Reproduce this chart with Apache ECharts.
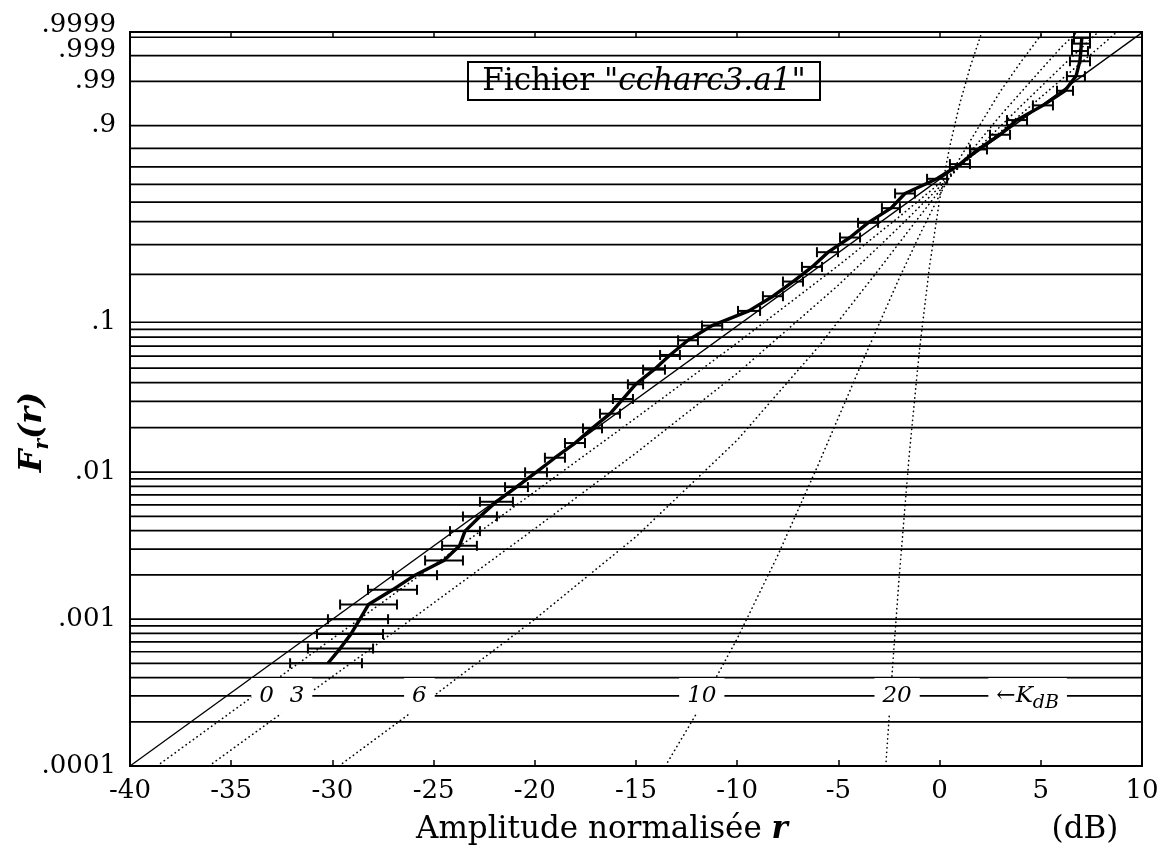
<!DOCTYPE html>
<html>
<head>
<meta charset="utf-8">
<script src="https://cdn.jsdelivr.net/npm/echarts@6/dist/echarts.min.js"></script>
<style>
html, body { margin: 0; padding: 0; background: #fff; }
#chart { width: 1168px; height: 860px; }
</style>
</head>
<body>
<div id="chart"></div>
<script>
// ---- Rayleigh probability paper: F axis levels ----
const gridProbs = [
  0.0002, 0.0003, 0.0004, 0.0005, 0.0006, 0.0007, 0.0008, 0.0009,
  0.001, 0.002, 0.003, 0.004, 0.005, 0.006, 0.007, 0.008, 0.009,
  0.01, 0.02, 0.03, 0.04, 0.05, 0.06, 0.07, 0.08, 0.09,
  0.1, 0.2, 0.3, 0.4, 0.5, 0.6, 0.7, 0.8, 0.9,
  0.99, 0.999, 0.9999
];
const yTickProbs  = [0.0001, 0.001, 0.01, 0.1, 0.9, 0.99, 0.999, 0.9999];
const yTickLabels = ['.0001', '.001', '.01', '.1', '.9', '.99', '.999', '.9999'];

// ---- measured distribution (amplitude in dB, cumulative probability) ----
const measProb = [
  5.011e-4, 6.308e-4, 7.940e-4, 9.995e-4, 1.258e-3, 1.584e-3, 1.993e-3, 2.509e-3,
  3.157e-3, 3.973e-3, 4.999e-3, 6.290e-3, 7.912e-3, 0.00995, 0.01251, 0.01572,
  0.01976, 0.02481, 0.03113, 0.03903, 0.04888, 0.06115, 0.07636, 0.09516,
  0.1183, 0.1466, 0.1809, 0.2221, 0.2711, 0.3284, 0.3942, 0.4679, 0.5481,
  0.6321, 0.7161, 0.7951, 0.8640, 0.9189, 0.9577, 0.9813, 0.9933, 0.9982,
  0.9994, 0.99976, 0.99989
];
const measDb = [
  -30.22, -29.62, -29.08, -28.64, -28.22, -27.03, -25.92, -24.49,
  -23.72, -23.45, -22.71, -21.90, -20.91, -19.94, -19.00, -18.01,
  -17.17, -16.28, -15.64, -15.02, -14.11, -13.32, -12.43, -11.24,
  -9.42, -8.23, -7.24, -6.30, -5.51, -4.43, -3.54, -2.40, -1.71,
  -0.13, 1.00, 1.90, 2.98, 3.82, 5.11, 6.19, 6.74, 6.93,
  6.98, 7.00, 7.03
];
const measLoDb = [
  -32.09, -31.21, -30.76, -30.22, -29.62, -28.24, -27.01, -25.42,
  -24.58, -24.19, -23.55, -22.71, -21.47, -20.48, -19.50, -18.51,
  -17.62, -16.78, -16.14, -15.40, -14.65, -13.81, -12.92, -11.74,
  -9.96, -8.73, -7.74, -6.80, -6.06, -4.92, -4.03, -2.85, -2.20,
  -0.62, 0.51, 1.50, 2.49, 3.33, 4.61, 5.80, 6.29, 6.44,
  6.54, 6.54, 6.64
];
const measHiDb = [
  -28.54, -27.99, -27.50, -27.25, -26.81, -25.82, -24.83, -23.55,
  -22.86, -22.71, -21.87, -21.08, -20.34, -19.40, -18.51, -17.52,
  -16.68, -15.79, -15.15, -14.65, -13.57, -12.83, -11.94, -10.74,
  -8.87, -7.74, -6.75, -5.81, -5.02, -3.93, -3.04, -1.96, -1.22,
  0.37, 1.50, 2.34, 3.48, 4.32, 5.60, 6.59, 7.18, 7.43,
  7.33, 7.43, 7.43
];

// ---- Rayleigh reference (straight line on this paper) ----
const rayleighDb   = [-40, 10];
const rayleighProb = [0.0001, 0.99995];

// ---- Rice reference curves, K in dB ----
const riceDbK0   = [-38.67, -28.67, -20, -15, -10, -5, -2, 0, 1.5, 3, 5, 6, 7, 8, 8.76];
const riceProbK0 = [0.0001, 0.001, 0.007358, 0.02326, 0.07335, 0.2263, 0.4233, 0.6057, 0.7510, 0.8759, 0.9725, 0.99109, 0.99796, 0.99970, 0.999955];
const riceDbK3   = [-36.10, -26.10, -20, -15, -10, -5, -2, 0, 2, 4, 6, 7, 7.84];
const riceProbK3 = [0.0001, 0.000997, 0.00413, 0.013466, 0.046196, 0.17192, 0.37446, 0.58536, 0.8101, 0.95557, 0.99682, 0.999573, 0.999955];
const riceDbK6   = [-29.68, -25, -20, -15, -10, -6, -3, -1, 1, 3, 5, 6, 6.8];
const riceProbK6 = [0.0001, 0.0003, 0.000999, 0.003642, 0.016463, 0.068903, 0.21423, 0.42452, 0.712, 0.93255, 0.99597, 0.99961, 0.999955];
const riceDbK10   = [-13.55, -12, -10, -8, -6, -4, -2, -1, 0, 1, 2, 3, 4, 5, 5.12];
const riceProbK10 = [0.0001, 0.000229, 0.000738, 0.00271, 0.0112, 0.0484, 0.189, 0.337, 0.539, 0.749, 0.9036, 0.9806, 0.99799, 0.999925, 0.999955];
const riceDbK20   = [-2.66, -2.3, -2, -1.5, -1, -0.5, 0, 0.5, 1, 1.5, 2, 2.095];
const riceProbK20 = [0.0001, 0.000526, 0.001913, 0.01314, 0.06519, 0.22325, 0.51376, 0.80964, 0.96178, 0.996714, 0.9999, 0.999955];

// ---- curve labels written on the F = .0003 level ----
const curveLabels    = ['0', '3', '6', '10', '20'];
const curveLabelDb   = [-33.25, -31.75, -25.7, -11.75, -2.1];
const curveLabelProb = 0.0003;

// Rayleigh-paper ordinate: t = log10(-ln(1 - F))
function paper(F) { return Math.log10(-Math.log(1 - F)); }
function pairs(db, prob) { return db.map((d, i) => [d, paper(prob[i])]); }

const SERIF = '"DejaVu Serif", "Liberation Serif", serif';
const chart = echarts.init(document.getElementById('chart'), null, { renderer: 'canvas' });

// the .999 label sits on its own axis so the close .9999 label does not hide it
const mainTickProbs = yTickProbs.filter(p => p !== 0.999);
const closeTickProbs = [0.999];
function labelFor(v) {
  let best = 0;
  yTickProbs.forEach((p, i) => {
    if (Math.abs(paper(p) - v) < Math.abs(paper(yTickProbs[best]) - v)) best = i;
  });
  const txt = yTickLabels[best];
  if (txt === '.9999') return '{u2|' + txt + '}';
  if (txt === '.999') return '{u1|' + txt + '}';
  return '{n|' + txt + '}';
}
const yRich = {
  n:  { fontFamily: SERIF, fontSize: 26, color: '#000' },
  u1: { fontFamily: SERIF, fontSize: 26, color: '#000', padding: [0, 0, 10, 0] },
  u2: { fontFamily: SERIF, fontSize: 26, color: '#000', padding: [0, 0, 24, 0] }
};

const riceSets = [
  [riceDbK0, riceProbK0], [riceDbK3, riceProbK3], [riceDbK6, riceProbK6],
  [riceDbK10, riceProbK10], [riceDbK20, riceProbK20]
];
const riceSeries = riceSets.map(([db, pr]) => ({
  type: 'line',
  data: pairs(db, pr),
  showSymbol: false,
  silent: true,
  z: 3,
  lineStyle: { color: '#000', width: 1.6, type: [0.3, 4.2], cap: 'round' }
}));

const axisLineStyle = { onZero: false, show: true, lineStyle: { color: '#000', width: 2 } };

const option = {
  animation: false,
  backgroundColor: '#fff',
  grid: {
    left: 130, right: 26, top: 32, bottom: 94,
    show: true, borderColor: '#000', borderWidth: 2, backgroundColor: 'transparent'
  },
  xAxis: [
    {
      type: 'value', min: -40, max: 10, interval: 5, position: 'bottom',
      axisLine: axisLineStyle,
      axisTick: { show: true, inside: true, length: 6, lineStyle: { color: '#000', width: 1.5 } },
      axisLabel: { color: '#000', fontFamily: SERIF, fontSize: 26, margin: 12 },
      splitLine: { show: false }
    },
    {
      type: 'value', min: -40, max: 10, interval: 5, position: 'top',
      axisLine: axisLineStyle,
      axisTick: { show: true, inside: true, length: 6, lineStyle: { color: '#000', width: 1.5 } },
      axisLabel: { show: false },
      splitLine: { show: false }
    }
  ],
  yAxis: [
    {
      type: 'value', min: -4, max: 1, position: 'left',
      axisLine: axisLineStyle,
      axisTick: { show: false },
      splitLine: { show: false },
      axisLabel: {
        customValues: mainTickProbs.map(paper),
        formatter: labelFor,
        hideOverlap: false,
        showMinLabel: true,
        showMaxLabel: true,
        margin: 14,
        color: '#000', fontFamily: SERIF, fontSize: 26,
        rich: yRich
      }
    },
    {
      type: 'value', min: -4, max: 1, position: 'left',
      axisLine: { onZero: false, show: false },
      axisTick: { show: false },
      splitLine: { show: false },
      axisLabel: {
        customValues: closeTickProbs.map(paper),
        formatter: labelFor,
        hideOverlap: false,
        margin: 14,
        color: '#000', fontFamily: SERIF, fontSize: 26,
        rich: yRich
      }
    }
  ],
  series: [
    {
      // horizontal probability levels
      type: 'custom',
      silent: true,
      z: 1,
      data: gridProbs.map(p => [paper(p)]),
      encode: { y: 0 },
      renderItem: function (params, api) {
        const t = api.value(0);
        const a = api.coord([-40, t]);
        const b = api.coord([10, t]);
        return {
          type: 'line',
          shape: { x1: a[0], y1: a[1], x2: b[0], y2: b[1] },
          style: { stroke: '#000', lineWidth: 1.7 }
        };
      }
    },
    {
      type: 'line',
      data: pairs(rayleighDb, rayleighProb),
      showSymbol: false,
      silent: true,
      z: 3,
      lineStyle: { color: '#000', width: 1.3 }
    },
    ...riceSeries,
    {
      type: 'line',
      data: pairs(measDb, measProb),
      showSymbol: false,
      silent: true,
      z: 4,
      lineStyle: { color: '#000', width: 3.4, join: 'round' }
    },
    {
      // horizontal error bars
      type: 'custom',
      silent: true,
      z: 4,
      data: measLoDb.map((lo, i) => [lo, measHiDb[i], paper(measProb[i])]),
      encode: { x: [0, 1], y: 2 },
      renderItem: function (params, api) {
        const t = api.value(2);
        const a = api.coord([api.value(0), t]);
        const b = api.coord([api.value(1), t]);
        const h = 5;
        const st = { stroke: '#000', lineWidth: 2 };
        return {
          type: 'group',
          children: [
            { type: 'line', shape: { x1: a[0], y1: a[1], x2: b[0], y2: b[1] }, style: st },
            { type: 'line', shape: { x1: a[0], y1: a[1] - h, x2: a[0], y2: a[1] + h }, style: st },
            { type: 'line', shape: { x1: b[0], y1: b[1] - h, x2: b[0], y2: b[1] + h }, style: st }
          ]
        };
      }
    },
    {
      // K labels on the .0003 level
      type: 'scatter',
      symbolSize: 0,
      silent: true,
      z: 6,
      itemStyle: { opacity: 1 },
      data: curveLabelDb.map((d, i) => ({ value: [d, paper(curveLabelProb)], name: curveLabels[i] }))
        .concat([{ value: [4.35, paper(curveLabelProb)], name: 'K' }]),
      label: {
        show: true,
        position: 'inside',
        opacity: 1,
        backgroundColor: '#fff',
        padding: [1, 8, 1, 8],
        fontFamily: SERIF, fontStyle: 'italic', fontSize: 22,
        color: '#000', textBorderWidth: 0,
        formatter: function (p) {
          if (p.name === 'K') return '{k|\u2190K}{s|dB}';
          return '{k|' + p.name + '}';
        },
        rich: {
          k: { fontFamily: SERIF, fontStyle: 'italic', fontSize: 23, color: '#000', textBorderWidth: 0, lineHeight: 34 },
          s: { fontFamily: SERIF, fontStyle: 'italic', fontSize: 19, color: '#000', textBorderWidth: 0, lineHeight: 22, verticalAlign: 'bottom' }
        }
      }
    }
  ],
  graphic: [
    {
      type: 'group',
      z: 100,
      children: [
        {
          type: 'rect',
          shape: { x: 468, y: 62, width: 352, height: 38 },
          style: { fill: '#fff', stroke: '#000', lineWidth: 2 }
        },
        {
          type: 'text',
          style: {
            x: 644, y: 82, align: 'center', verticalAlign: 'middle',
            text: '{n|Fichier }{i|"ccharc3.a1"}',
            rich: {
              n: { fontFamily: SERIF, fontSize: 31, fill: '#000', color: '#000' },
              i: { fontFamily: SERIF, fontStyle: 'italic', fontSize: 31, fill: '#000', color: '#000' }
            }
          }
        }
      ]
    },
    {
      type: 'text',
      z: 100,
      x: 33, y: 432,
      rotation: Math.PI / 2,
      style: {
        x: 0, y: 0, align: 'center', verticalAlign: 'middle',
        text: '{f|F}{s|r}{f|(r)}',
        rich: {
          f: { fontFamily: SERIF, fontStyle: 'italic', fontWeight: 'bold', fontSize: 32, lineHeight: 40, fill: '#000', color: '#000' },
          s: { fontFamily: SERIF, fontStyle: 'italic', fontWeight: 'bold', fontSize: 20, lineHeight: 24, verticalAlign: 'bottom', fill: '#000', color: '#000' }
        }
      }
    },
    {
      type: 'text',
      z: 100,
      style: {
        x: 602, y: 830, align: 'center', verticalAlign: 'middle',
        text: '{n|Amplitude normalisée }{i|r}',
        rich: {
          n: { fontFamily: SERIF, fontSize: 31, fill: '#000', color: '#000' },
          i: { fontFamily: SERIF, fontStyle: 'italic', fontWeight: 'bold', fontSize: 31, fill: '#000', color: '#000' }
        }
      }
    },
    {
      type: 'text',
      z: 100,
      style: {
        x: 1085, y: 830, align: 'center', verticalAlign: 'middle',
        text: '(dB)',
        fontFamily: SERIF, fontSize: 31, fill: '#000'
      }
    }
  ]
};

chart.setOption(option);
</script>
</body>
</html>
